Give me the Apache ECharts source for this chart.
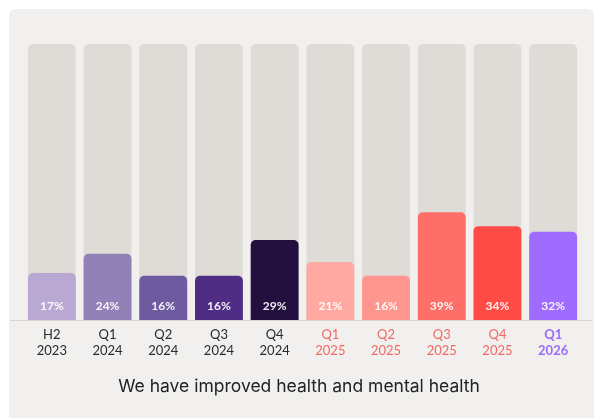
<!DOCTYPE html>
<html>
<head>
<meta charset="utf-8">
<script src="https://cdn.jsdelivr.net/npm/echarts@6/dist/echarts.min.js"></script>
<style>
  html, body { margin: 0; padding: 0; background: #ffffff; }
  #chart { width: 598px; height: 418px; }
</style>
</head>
<body>
<div id="chart"></div>
<script>
// Period labels (two lines each) and the share of respondents per period
const periods = ['H2\n2023', 'Q1\n2024', 'Q2\n2024', 'Q3\n2024', 'Q4\n2024',
                 'Q1\n2025', 'Q2\n2025', 'Q3\n2025', 'Q4\n2025', 'Q1\n2026'];
const shares = [17, 24, 16, 16, 29, 21, 16, 39, 34, 32];
const barColors = ['#b9a8d1', '#9281b6', '#6e5a9f', '#4f2d84', '#23103f',
                   '#ffa9a2', '#ff958f', '#ff6f69', '#ff4b46', '#a06cff'];
// Label style class per period: older years dark, 2025 coral, 2026 highlighted
const labelStyles = ['old', 'old', 'old', 'old', 'old', 'cur', 'cur', 'cur', 'cur', 'next'];
const caption = 'We have improved health and mental health';

const chart = echarts.init(document.getElementById('chart'), null, { renderer: 'canvas' });

chart.setOption({
  backgroundColor: '#ffffff',
  animation: false,
  graphic: [
    {
      type: 'rect', z: -10, silent: true,
      shape: { x: 9, y: 9, width: 585, height: 420, r: 6 },
      style: { fill: '#f1f0ee' }
    },
    {
      type: 'line', z: 0, silent: true,
      shape: { x1: 10, y1: 320.5, x2: 592, y2: 320.5 },
      style: { stroke: '#d9d6d1', lineWidth: 1 }
    }
  ],
  title: {
    text: caption,
    left: 'center',
    top: 373,
    textStyle: { fontFamily: 'Inter', fontSize: 17.5, fontWeight: 'normal', color: '#222222' }
  },
  grid: { left: 24, right: 17, top: 44, bottom: 98 },
  xAxis: {
    type: 'category',
    data: periods,
    axisLine: { show: false },
    axisTick: { show: false },
    axisLabel: {
      margin: 7,
      interval: 0,
      formatter: (value, idx) => {
        const cls = labelStyles[idx];
        return value.split('\n').map(s => '{' + cls + '|' + s + '}').join('\n');
      },
      rich: {
        old: { fontFamily: 'Lato', fontSize: 13, color: '#2a2a2a', lineHeight: 16 },
        cur: { fontFamily: 'Lato', fontSize: 13, color: '#ee6a63', lineHeight: 16 },
        next: { fontFamily: 'Lato', fontSize: 13, color: '#9b6cf5', fontWeight: 'bold', lineHeight: 16 }
      }
    }
  },
  yAxis: {
    type: 'value',
    min: 0,
    max: 100,
    show: false,
    splitLine: { show: false }
  },
  series: [{
    type: 'bar',
    barWidth: '86%',
    showBackground: true,
    backgroundStyle: { color: '#dfdcd8', borderRadius: [5, 5, 0, 0] },
    data: shares.map((v, i) => ({ value: v, itemStyle: { color: barColors[i] } })),
    itemStyle: { borderRadius: [5, 5, 0, 0] },
    label: {
      show: true,
      position: 'insideBottom',
      distance: 8,
      formatter: '{c}%',
      fontFamily: 'Lato',
      fontSize: 12,
      fontWeight: 'bold',
      color: 'rgba(255,255,255,0.92)'
    }
  }]
});
</script>
</body>
</html>
